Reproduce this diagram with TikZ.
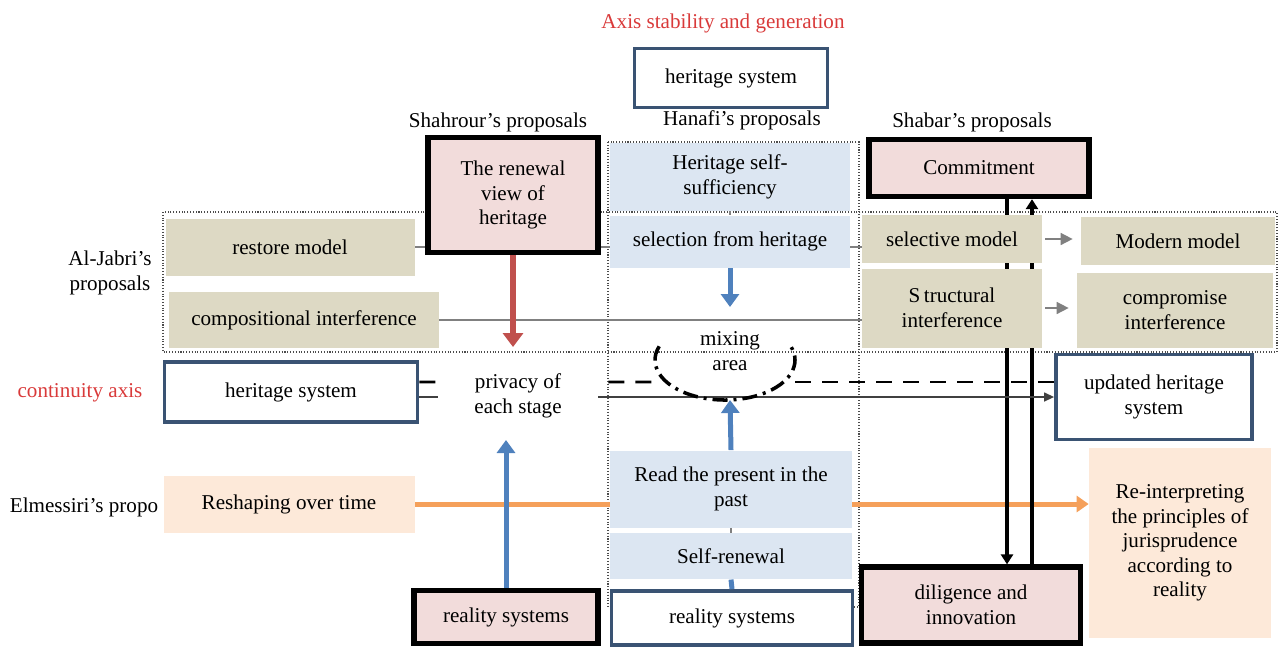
\documentclass[tikz,border=0pt]{standalone}
\usepackage{fontspec}
\setmainfont{Liberation Serif}
\usetikzlibrary{arrows.meta, positioning, backgrounds}
\definecolor{tanfill}{HTML}{DDD9C4}
\definecolor{bluefill}{HTML}{DCE6F2}
\definecolor{pinkfill}{HTML}{F2DCDB}
\definecolor{peachfill}{HTML}{FDE9D9}
\definecolor{sysblue}{HTML}{3A5373}
\definecolor{axisred}{HTML}{D93A3A}
\definecolor{arrowred}{HTML}{C0504D}
\definecolor{arrowblue}{HTML}{4F81BD}
\definecolor{arroworange}{HTML}{F5A05A}

\begin{document}
\begin{tikzpicture}[x=0.2mm, y=-0.2mm, font=\fontsize{12}{14}\selectfont,
		plainbox/.style={inner sep=2pt, align=center},
		tanbox/.style={plainbox, fill=tanfill},
		bluebox/.style={plainbox, fill=bluefill},
		peachbox/.style={plainbox, fill=peachfill},
		pinkbox/.style={plainbox, fill=pinkfill, draw=black, line width=3pt},
		sysbox/.style={plainbox, fill=white, draw=sysblue, line width=2.2pt},
		dotframe/.style={draw=black!70, densely dotted, line width=0.6pt},
		redarrow/.style={draw=arrowred, line width=1.2mm, -{Triangle[length=2.8mm, width=4mm]}},
		bluearrow/.style={draw=arrowblue, line width=1mm, -{Triangle[length=2.6mm, width=3.6mm]}},
		orangearrow/.style={draw=arroworange, line width=1mm, -{Triangle[length=2.4mm, width=3.2mm]}},
		blackarrow/.style={draw=black, line width=0.8mm, -{Triangle[length=2mm, width=2.4mm]}},
		greyarrow/.style={draw=gray, line width=0.9pt, -{Triangle[length=2.4mm, width=2.4mm]},
			shorten <=0.6mm, shorten >=1.6mm},
		linkarrow/.style={draw=black!75, line width=0.8pt, -{Triangle[length=2mm, width=1.8mm]}},
		thinlink/.style={draw=gray, line width=0.7pt},
		dashlink/.style={draw=black, line width=1.6pt, dash pattern=on 3.2mm off 2.2mm},
		ringline/.style={draw=black, line width=2pt, dash pattern=on 3mm off 1.2mm on 0.6mm off 1.2mm}]
	\useasboundingbox (0,0) rectangle (1282,647);

	\node[text=axisred] (title) at (723,23) {Axis stability and generation};
	\node[sysbox, minimum width=38.6mm, minimum height=11.8mm] (topsys) at (731,78) {heritage system};
	\node (shahrour) at (498,122) {Shahrour's proposals};
	\node (hanafi) at (742,120) {Hanafi's proposals};
	\node (shabar) at (972,122) {Shabar's proposals};

	\node[pinkbox, minimum width=34mm, minimum height=23mm] (renewal) at (513,195) {The renewal\\view of\\heritage};
	\node[pinkbox, minimum width=44mm, minimum height=11.4mm] (commit) at (979,168) {Commitment};

	\node[bluebox, minimum width=48mm, minimum height=13.6mm] (selfsuff) at (730,177) {Heritage self-\\sufficiency};
	\node[bluebox, minimum width=48mm, minimum height=10.4mm, below=0.8mm of selfsuff] (selection) {selection from heritage};
	\node[plainbox] (mixing) at (730,351) {mixing\\area};
	\coordinate (mixcentre) at (725,360);
	\node[bluebox, minimum width=48.4mm, minimum height=15.4mm] (readpast) at (731,489) {Read the present in the\\past};
	\node[bluebox, minimum width=48.4mm, minimum height=9.2mm, below=1mm of readpast] (selfrenew) {Self-renewal};
	\node[sysbox, minimum width=48.2mm, minimum height=10.8mm] (realityB) at (732,618) {reality systems};

	\node[align=center] (aljabri) at (110,273) {Al-Jabri's\\proposals};
	\node[tanbox, minimum width=49.8mm, minimum height=11.4mm] (restore) at (290,247) {restore model};
	\node[tanbox, minimum width=54mm, minimum height=11.2mm] (compos) at (304,320) {compositional interference};
	\node[tanbox, minimum width=36mm, minimum height=9.6mm] (selective) at (952,239) {selective model};
	\node[tanbox, minimum width=38.8mm, minimum height=9.6mm] (modern) at (1178,241) {Modern model};
	\node[tanbox, minimum width=36mm, minimum height=15.8mm] (structural) at (952,308) {S\,tructural\\interference};
	\node[tanbox, minimum width=39.2mm, minimum height=15mm] (compromise) at (1175,310) {compromise\\interference};

	\node[text=axisred] (continuity) at (80,393) {continuity axis};
	\node[sysbox, minimum width=50.6mm, minimum height=12mm] (heritA) at (291,392) {heritage system};
	\node[plainbox, fill=white, minimum width=32mm, minimum height=12mm] (privacy) at (518,396) {privacy of\\each stage};
	\node[sysbox, minimum width=39.2mm, minimum height=17mm] (updated) at (1154,397) {updated heritage\\system};

	\node (elmessiri) at (84,507) {Elmessiri's propo};
	\node[peachbox, minimum width=50.2mm, minimum height=11.4mm] (reshape) at (289,504) {Reshaping over time};
	\node[peachbox, minimum width=36.4mm, minimum height=38mm] (reinterp) at (1180,543) {Re-interpreting\\the principles of\\jurisprudence\\according to\\reality};

	\node[pinkbox, minimum width=36.8mm, minimum height=10.6mm] (realityA) at (506,617) {reality systems};
	\node[pinkbox, minimum width=43.8mm, minimum height=15.2mm] (diligence) at (971,605) {diligence and\\innovation};

	\coordinate (blackL) at (1007,0);
	\coordinate (blackR) at (1032,0);
	\coordinate (ringL) at (655,382);
	\coordinate (ringR) at (795,382);
	\coordinate (redtip) at (513,347);
	\coordinate (mixtop) at (730,307);
	\coordinate (mixbot) at (730,400);
	\coordinate (privtip) at (506,440);

	\begin{scope}[on background layer]
		\draw[dotframe] (163,212) rectangle (1277,352);
		\draw[dotframe] (608,142) rectangle (859,607);
		\draw[thinlink] (restore.east) -- (restore.east -| selective.west);
		\draw[thinlink] (compos.east) -- (compos.east -| structural.west);
		\draw[orangearrow] (reshape.east) -- (reshape.east -| reinterp.west);
		\draw[blackarrow] (commit.south -| blackL) -- (diligence.north -| blackL);
		\draw[blackarrow] (diligence.north -| blackR) -- (commit.south -| blackR);
		\draw[linkarrow] ([yshift=-1mm]heritA.east) -- ([yshift=-1mm]heritA.east -| updated.west);
		\draw[dashlink] ([yshift=2mm]heritA.east) -- (ringL);
		\draw[dashlink] (ringR) -- (ringR -| updated.west);
	\end{scope}

	\draw[redarrow] (renewal.south) -- (redtip);
	\draw[bluearrow] (selection.south) -- (mixtop);
	\draw[bluearrow] (readpast.north) -- (mixbot);
	\draw[bluearrow] (realityA.north) -- (privtip);
	\draw[greyarrow] (selective.east) -- (selective.east -| modern.west);
	\draw[greyarrow] (structural.east) -- (structural.east -| compromise.west);
	\draw[ringline] (mixcentre) ++(160:14mm and 8mm) arc[start angle=160, end angle=380, x radius=14mm, y radius=8mm];
	\draw[gray, line width=0.8pt] (selfsuff.south) -- (selection.north);
	\draw[gray, line width=0.8pt] (readpast.south) -- (selfrenew.north);
	\draw[arrowblue, line width=1mm] (selfrenew.south) -- (realityB.north);
\end{tikzpicture}
\end{document}
